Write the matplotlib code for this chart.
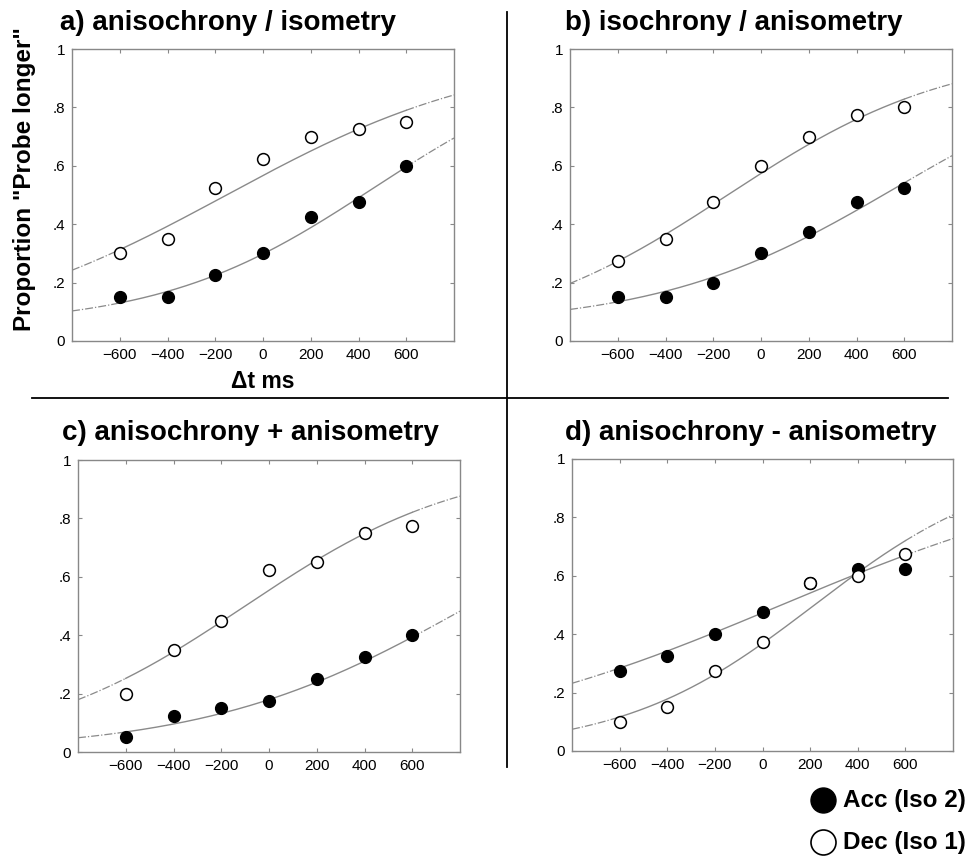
import numpy as np
import matplotlib
matplotlib.use("Agg")
import matplotlib.pyplot as plt
from matplotlib.lines import Line2D

plt.rcParams['font.family'] = ['Liberation Sans', 'DejaVu Sans']

# Probe offsets (ms)
dt = [-600, -400, -200, 0, 200, 400, 600]

# Proportion "probe longer", per panel
titles = ['a) anisochrony / isometry', 'b) isochrony / anisometry',
          'c) anisochrony + anisometry', 'd) anisochrony - anisometry']
acc = [[0.15, 0.15, 0.225, 0.30, 0.425, 0.475, 0.60],
       [0.15, 0.15, 0.20, 0.30, 0.375, 0.475, 0.525],
       [0.05, 0.125, 0.15, 0.175, 0.25, 0.325, 0.40],
       [0.275, 0.325, 0.40, 0.475, 0.575, 0.625, 0.625]]
dec = [[0.30, 0.35, 0.525, 0.625, 0.70, 0.725, 0.75],
       [0.275, 0.35, 0.475, 0.60, 0.70, 0.775, 0.80],
       [0.20, 0.35, 0.45, 0.625, 0.65, 0.75, 0.775],
       [0.10, 0.15, 0.275, 0.375, 0.575, 0.60, 0.675]]

# fitted psychometric curves: (lower asymptote, mu, scale)
acc_fit = [(0.05, 465, 447), (0.05, 565, 500), (0.0, 839, 552), (0.0, 79, 734)]
dec_fit = [(0.0, -153, 568), (0.0, -140, 470), (0.0, -100, 460), (0.0, 218, 404)]

yticks = [0, 0.2, 0.4, 0.6, 0.8, 1]
yticklabels = ['0', '.2', '.4', '.6', '.8', '1']


def curve(x, g, mu, s):
    return g + (1 - g) / (1 + np.exp(-(x - mu) / s))


fig = plt.figure(figsize=(9.72, 8.56), dpi=100)
W, H = 972, 856

# axes boxes in pixels: left, top, right, bottom
boxes = [(72, 49, 454, 341), (570, 49, 952, 341),
         (78, 460, 460, 752), (572, 459, 953, 751)]
title_pos = [(228, 23), (734, 23), (250, 433), (751, 433)]

x_in = np.linspace(-600, 600, 200)
x_lo = np.linspace(-800, -600, 40)
x_hi = np.linspace(600, 800, 40)
line_col = '#8a8a8a'

for i in range(4):
    l, t, r, b = boxes[i]
    ax = fig.add_axes([l / W, 1 - b / H, (r - l) / W, (b - t) / H])
    for fit in (acc_fit[i], dec_fit[i]):
        ax.plot(x_in, curve(x_in, *fit), color=line_col, lw=1.0, zorder=2)
        ax.plot(x_lo, curve(x_lo, *fit), color=line_col, lw=0.9, ls='-.', zorder=2)
        ax.plot(x_hi, curve(x_hi, *fit), color=line_col, lw=0.9, ls='-.', zorder=2)
    ax.plot(dt, acc[i], 'o', color='black', ms=8.5, zorder=3, clip_on=False)
    ax.plot(dt, dec[i], 'o', mfc='white', mec='black', mew=1.1, ms=8.5, zorder=4, clip_on=False)
    ax.set_xlim(-800, 800)
    ax.set_ylim(0, 1)
    ax.set_xticks(dt)
    ax.set_xticklabels([str(v).replace('-', '\u2212') for v in dt])
    ax.set_yticks(yticks)
    ax.set_yticklabels(yticklabels)
    ax.tick_params(direction='in', length=3, width=0.8, color='#888888',
                   top=True, right=True, labelsize=11, pad=5)
    for sp in ax.spines.values():
        sp.set_color('#888888')
        sp.set_linewidth(1.0)
    tx, ty = title_pos[i]
    fig.text(tx / W, 1 - ty / H, titles[i], ha='center', va='center',
             fontsize=20, fontweight='bold')

fig.text(25 / W, 1 - 179 / H, 'Proportion "Probe longer"', rotation=90,
         ha='center', va='center', fontsize=17.5, fontweight='bold')
fig.text(263 / W, 1 - 382 / H, '\u0394t ms', ha='center', va='center',
         fontsize=16.5, fontweight='bold')

# quadrant dividers
fig.add_artist(Line2D([507 / W, 507 / W], [1 - 12 / H, 1 - 767 / H],
                      color='black', lw=1.3))
fig.add_artist(Line2D([32 / W, 948 / W], [1 - 398 / H, 1 - 398 / H],
                      color='black', lw=1.3))

# legend
fig.add_artist(Line2D([823 / W], [1 - 800 / H], marker='o', color='black', ms=18))
fig.add_artist(Line2D([823 / W], [1 - 842 / H], marker='o', mfc='white',
                      mec='black', mew=1.2, ms=18))
fig.text(843 / W, 1 - 800 / H, 'Acc (Iso 2)', ha='left', va='center',
         fontsize=17.5, fontweight='bold')
fig.text(843 / W, 1 - 842 / H, 'Dec (Iso 1)', ha='left', va='center',
         fontsize=17.5, fontweight='bold')

fig.savefig('out.png', dpi=100)
